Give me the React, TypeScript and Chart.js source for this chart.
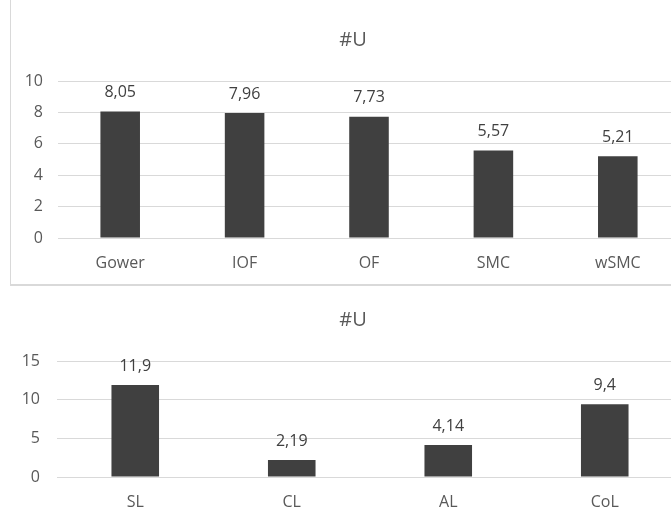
import React, { useEffect, useRef } from "react";
import { Chart, registerables } from "chart.js";

Chart.register(...registerables);

const titleText = "#U";
const topCategories = ["Gower", "IOF", "OF", "SMC", "wSMC"];
const topValues = [8.05, 7.96, 7.73, 5.57, 5.21];
const topTicks = { max: 10, step: 2 };
const bottomCategories = ["SL", "CL", "AL", "CoL"];
const bottomValues = [11.9, 2.19, 4.14, 9.4];
const bottomTicks = { max: 15, step: 5 };

const FONT = "'Open Sans', 'Liberation Sans', sans-serif";
const TEXT = "#595959";
const BAR = "#404040";
const GRID = "#d9d9d9";

const valueLabels = {
  id: "valueLabels",
  afterDatasetsDraw(chart: any) {
    const ctx = chart.ctx;
    ctx.save();
    ctx.font = `16px ${FONT}`;
    ctx.fillStyle = BAR;
    ctx.textAlign = "center";
    ctx.textBaseline = "middle";
    chart.data.datasets.forEach((ds: any, i: number) => {
      const meta = chart.getDatasetMeta(i);
      meta.data.forEach((bar: any, j: number) => {
        const v = ds.data[j];
        ctx.fillText(String(v).replace(".", ","), bar.x, bar.y - 19);
      });
    });
    ctx.restore();
  },
};

const chartTitle = {
  id: "chartTitle",
  afterDraw(chart: any, _args: any, opts: any) {
    const ctx = chart.ctx;
    ctx.save();
    ctx.font = `20px ${FONT}`;
    ctx.fillStyle = TEXT;
    ctx.textAlign = "center";
    ctx.textBaseline = "middle";
    ctx.fillText(opts.text, opts.x, opts.y);
    ctx.restore();
  },
};

function makeConfig(
  labels: string[],
  values: number[],
  ticks: { max: number; step: number },
  opts: {
    barPct: number;
    padTop: number;
    titleX: number;
    titleY: number;
    yWidth: number;
    yPad: number;
    xHeight: number;
    padRight: number;
  }
): any {
  return {
    type: "bar",
    data: {
      labels,
      datasets: [
        {
          data: values,
          backgroundColor: BAR,
          borderWidth: 0,
          categoryPercentage: 1,
          barPercentage: opts.barPct,
        },
      ],
    },
    options: {
      responsive: false,
      animation: false,
      devicePixelRatio: 1,
      layout: { padding: { left: 0, right: opts.padRight, top: opts.padTop, bottom: 0 } },
      plugins: {
        legend: { display: false },
        tooltip: { enabled: false },
        title: { display: false },
        chartTitle: { text: titleText, x: opts.titleX, y: opts.titleY },
      },
      scales: {
        x: {
          grid: { display: false },
          border: { display: false },
          ticks: { color: TEXT, font: { family: FONT, size: 16 }, padding: 8, maxRotation: 0 },
          afterFit: (s: any) => {
            s.height = opts.xHeight;
          },
        },
        y: {
          min: 0,
          max: ticks.max,
          grid: { color: GRID, drawTicks: false, lineWidth: 1 },
          border: { display: false },
          ticks: { stepSize: ticks.step, color: TEXT, font: { family: FONT, size: 16 }, padding: opts.yPad },
          afterFit: (s: any) => {
            s.width = opts.yWidth;
          },
        },
      },
    },
    plugins: [valueLabels, chartTitle],
  };
}

function BarChart(props: { config: any; width: number; height: number }) {
  const ref = useRef<HTMLCanvasElement | null>(null);
  useEffect(() => {
    if (!ref.current) return;
    const chart = new Chart(ref.current, props.config);
    return () => chart.destroy();
  }, []);
  return (
    <canvas
      ref={ref}
      width={props.width}
      height={props.height}
      style={{ display: "block", width: props.width, height: props.height }}
    />
  );
}

export default function App() {
  const topConfig = makeConfig(topCategories, topValues, topTicks, {
    barPct: 0.318,
    padTop: 81,
    titleX: 342,
    titleY: 40,
    yWidth: 47,
    yPad: 15,
    xHeight: 46,
    padRight: 11,
  });
  const bottomConfig = makeConfig(bottomCategories, bottomValues, bottomTicks, {
    barPct: 0.304,
    padTop: 74,
    titleX: 342,
    titleY: 33,
    yWidth: 46,
    yPad: 17,
    xHeight: 44,
    padRight: 8,
  });
  return (
    <div
      style={{
        position: "absolute",
        left: 0,
        top: 0,
        width: 671,
        height: 521,
        overflow: "hidden",
        background: "#ffffff",
      }}
    >
      <div
        style={{
          position: "absolute",
          left: 10,
          top: 0,
          width: 720,
          height: 284,
          borderLeft: `1px solid ${GRID}`,
          borderBottom: `2px solid ${GRID}`,
        }}
      >
        <BarChart config={topConfig} width={680} height={284} />
      </div>
      <div style={{ position: "absolute", left: 11, top: 287, width: 680, height: 234 }}>
        <BarChart config={bottomConfig} width={680} height={234} />
      </div>
    </div>
  );
}
